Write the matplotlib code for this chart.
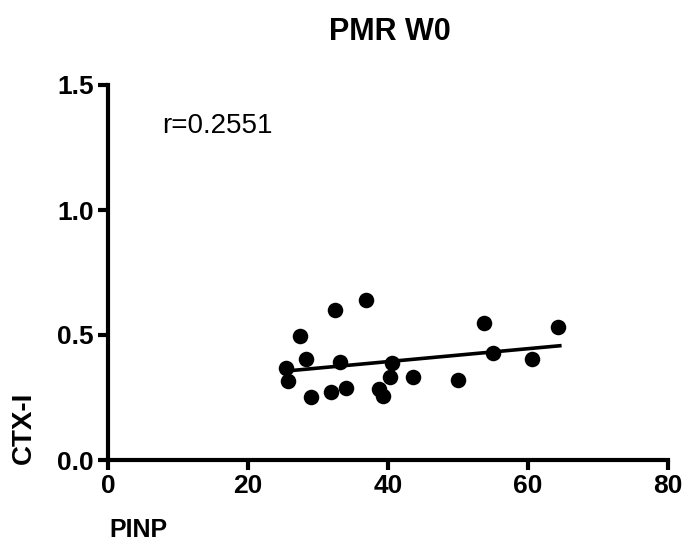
import matplotlib
matplotlib.use('Agg')
import matplotlib.pyplot as plt
import numpy as np

# PINP (x) vs CTX-I (y)
pinp = [25.5, 25.8, 27.5, 28.3, 29.0, 32.5, 31.9, 33.2, 34.0, 36.9,
        38.8, 39.3, 40.6, 40.3, 43.6, 50.0, 53.7, 55.1, 60.6, 64.4]
ctx = [0.367, 0.316, 0.496, 0.403, 0.253, 0.600, 0.273, 0.393, 0.289, 0.640,
       0.283, 0.256, 0.387, 0.331, 0.333, 0.320, 0.547, 0.429, 0.403, 0.533]
fit_x = [25.9, 64.6]
fit_y = [0.357, 0.457]

x_ticks = [0, 20, 40, 60, 80]
y_ticks = [0.0, 0.5, 1.0, 1.5]

plt.rcParams['font.family'] = ['Liberation Sans Narrow', 'Liberation Sans', 'DejaVu Sans']
arial = ['Liberation Sans', 'DejaVu Sans']

fig = plt.figure(figsize=(6.85, 5.51), dpi=100)
ax = fig.add_axes([108 / 685, 91 / 551, 559.5 / 685, 375 / 551])

ax.scatter(pinp, ctx, s=125, color='black', zorder=3, linewidths=0)
ax.plot(fit_x, fit_y, color='black', lw=2.6, zorder=2)

ax.set_xlim(0, 80)
ax.set_ylim(0, 1.5)
ax.set_xticks(x_ticks)
ax.set_yticks(y_ticks)
ax.set_yticklabels(['%.1f' % v for v in y_ticks])
ax.spines['top'].set_visible(False)
ax.spines['right'].set_visible(False)
ax.spines['left'].set_linewidth(3)
ax.spines['bottom'].set_linewidth(3)
ax.tick_params(length=7, width=3, labelsize=19, pad=3)
for lab in ax.get_xticklabels() + ax.get_yticklabels():
    lab.set_fontweight('bold')

# correlation label
ax.text(7.7, 1.335, 'r=0.2551', fontsize=20, va='center', family=arial)

fig.text(390 / 685, 1 - 32 / 551, 'PMR W0', ha='center', va='center', fontsize=22,
         fontweight='bold', family=arial)
fig.text(109 / 685, 1 - 530 / 551, 'PINP', ha='left', va='center', fontsize=18,
         fontweight='bold', family=arial)
fig.text(24 / 685, 1 - 428 / 551, 'CTX-I', ha='center', va='center', rotation=90, fontsize=20,
         fontweight='bold', family=arial)

fig.savefig('out.png', dpi=100)
